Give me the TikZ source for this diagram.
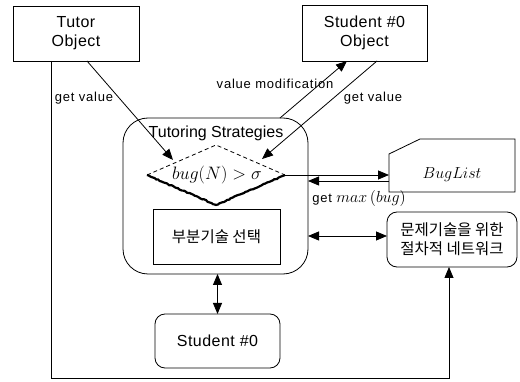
\RequirePackage{fix-cm}
\documentclass[tikz,border=0pt]{standalone}
\usepackage{fontspec}
\setmainfont{Liberation Sans}
\newfontfamily\kr{Noto Sans CJK KR}
\newfontfamily\lblfont[LetterSpace=6]{Liberation Sans}
\newfontfamily\boxfont[LetterSpace=3]{Liberation Sans}
\usetikzlibrary{arrows.meta,decorations.pathmorphing}
\begin{document}
\begin{tikzpicture}[x=1pt,y=-1pt,
  line width=0.8pt,
  tip/.style={-{Triangle[length=11pt,width=9pt]}},
  dtip/.style={{Triangle[length=11pt,width=9pt]}-{Triangle[length=11pt,width=9pt]}},
  box/.style={draw,inner sep=0pt,outer sep=0pt,align=center,font=\fontsize{16}{19}\boxfont},
  rbox/.style={box,rounded corners=10pt},
  krbox/.style={box,font=\fontsize{15.5}{19}\kr},
  lbl/.style={font=\fontsize{13}{15}\lblfont,inner sep=0pt}]
\useasboundingbox (0,0) rectangle (520,382);

% boxes
\node[box,minimum width=126,minimum height=55] (tutor) at (76,33.5) {Tutor\\Object};
\node[box,minimum width=125,minimum height=56] (sobj) at (364.5,33) {Student \#0\\Object};
\node[box,rounded corners=25pt,minimum width=185,minimum height=156] (ts) at (215.5,196) {};
\node[inner sep=0pt,font=\fontsize{16}{19}\selectfont] (tstitle) at (216,133) {Tutoring Strategies};
\node[krbox,minimum width=127,minimum height=55] (sub) at (216.5,236.5) {부분기술 선택};
\node[krbox,rounded corners=10pt,minimum width=130,minimum height=55] (net) at (452,239.5) {문제기술을 위한\\절차적 네트워크};
\node[rbox,minimum width=125,minimum height=54] (stu) at (217.5,341) {Student \#0};

% BugList shape
\node[inner sep=0pt,outer sep=0pt,minimum width=126,minimum height=53] (bug) at (452,165.5) {};
\draw (bug.south west) -- ([yshift=-15pt]bug.north west) -- ([xshift=31pt]bug.north west) -- (bug.north east) -- (bug.south east) -- cycle;
\node[inner sep=0pt,font=\fontsize{16}{19}\selectfont] (bugtxt) at (452,175) {$BugList$};

% diamond
\coordinate (dt) at (216,145);
\coordinate (dl) at (147,175);
\coordinate (dr) at (285,175);
\coordinate (db) at (216,205);
\draw[dashed,dash pattern=on 4pt off 3pt] (dl) -- (dt) -- (dr);
\draw[line width=2.2pt,decorate,decoration={random steps,segment length=2pt,amplitude=0.5pt}] (dl) -- (db) -- (dr);
\node[inner sep=0pt,font=\fontsize{18}{21}\selectfont] (dtxt) at (217,175) {$bug(N) > \sigma$};
\coordinate (dla) at (173,160);
\coordinate (dra) at (262,159);

% connectors
\coordinate (c1) at (51,378);
\coordinate (c2) at (449,378);
\draw[tip] (tutor.south -| c1) |- (c2) -- (c2 |- net.south);
\draw[tip] ([xshift=74pt]tutor.south west) -- (dla);
\draw[tip] ([xshift=-28pt]ts.north east) -- ([xshift=45pt]sobj.south west);
\draw[tip] ([xshift=75pt]sobj.south west) -- (dra);
\draw[tip] (dr) -- (dr -| bug.west);
\coordinate (b2) at ([yshift=-15.5pt]bug.west);
\draw[tip] (b2) -- (b2 -| ts.east);
\coordinate (m) at (0,236);
\draw[dtip] (ts.east |- m) -- (net.west |- m);
\draw[dtip] (ts.south -| stu.north) -- (stu.north);

% labels
\node[lbl] (l1) at (84,98) {get value};
\node[lbl] (l2) at (275,84) {value modification};
\node[lbl] (l3) at (373,98) {get value};
\node[lbl,anchor=west] (l4) at (312,199) {get {\fontsize{16}{18}\selectfont$max\,(bug)$}};
\end{tikzpicture}
\end{document}
